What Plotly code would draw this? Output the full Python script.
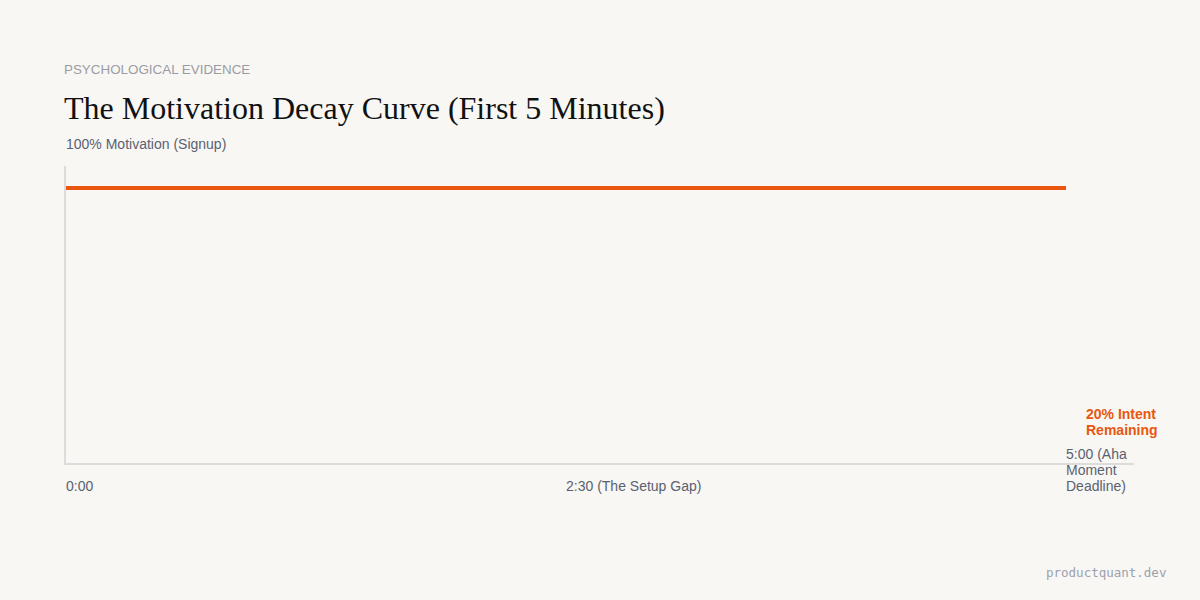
import plotly.graph_objects as go

# chart data (minutes since signup, motivation %)
minutes = [0, 2.5, 5]
motivation = [92.6, 92.6, 92.6]
tick_vals = [0, 2.5, 5]
tick_text = ["0:00", "2:30 (The Setup Gap)", "5:00 (Aha|Moment|Deadline)"]

bg = "#f8f7f4"
orange = "#e8560f"
grey_txt = "#5b6170"
sans = "Liberation Sans, Arial, sans-serif"

# plot area: x 66..1134, y 166..463 (px)
def py(px):
    return (600 - px - 137) / 297

def pxx(px):
    return (px - 66) / 1068

fig = go.Figure()
fig.add_trace(go.Scatter(x=minutes, y=motivation, mode="lines",
                         line=dict(color=orange, width=4), hoverinfo="skip"))

fig.update_layout(
    width=1200, height=600,
    paper_bgcolor=bg, plot_bgcolor=bg,
    margin=dict(l=66, r=66, t=166, b=137),
    showlegend=False,
    xaxis=dict(range=[0, 5.34], showgrid=False, zeroline=False, showticklabels=False,
               showline=True, linecolor="#dcdcdc", linewidth=2, fixedrange=True),
    yaxis=dict(range=[0, 100], showgrid=False, zeroline=False, showticklabels=False,
               showline=True, linecolor="#dcdcdc", linewidth=2, fixedrange=True),
)

# header text
fig.add_annotation(text="PSYCHOLOGICAL EVIDENCE", xref="paper", yref="paper",
                   x=pxx(64), y=py(70), xanchor="left", yanchor="middle", xshift=-2,
                   showarrow=False, font=dict(family=sans, size=13.4, color="#9b9ca3"))
fig.add_annotation(text="The Motivation Decay Curve (First 5 Minutes)", xref="paper", yref="paper",
                   x=pxx(64), y=py(108), xanchor="left", yanchor="middle", xshift=-2,
                   showarrow=False, font=dict(family="Liberation Serif, Times New Roman, serif",
                                              size=32, color="#111111"))
fig.add_annotation(text="100% Motivation (Signup)", xref="paper", yref="paper",
                   x=pxx(66), y=py(144), xanchor="left", yanchor="middle", xshift=-2,
                   showarrow=False, font=dict(family=sans, size=14, color=grey_txt))

# x labels, written as annotations so they can wrap like the reference
for v, t in zip(tick_vals[:2], tick_text[:2]):
    fig.add_annotation(text=t, x=v, xref="x", yref="paper", y=py(486), xshift=-2,
                       xanchor="left", yanchor="middle", showarrow=False,
                       font=dict(family=sans, size=14, color=grey_txt))
for i, part in enumerate(tick_text[2].split("|")):
    fig.add_annotation(text=part, x=tick_vals[2], xref="x", yref="paper", xshift=-2,
                       y=py(454 + 16 * i),
                       xanchor="left", yanchor="middle", showarrow=False,
                       font=dict(family=sans, size=14, color=grey_txt))

# end label
for i, part in enumerate(["20% Intent", "Remaining"]):
    fig.add_annotation(text="<b>" + part + "</b>", x=5.1, xref="x", yref="paper", xshift=-2,
                       y=py(414 + 16 * i),
                       xanchor="left", yanchor="middle", showarrow=False,
                       font=dict(family=sans, size=14, color=orange))

fig.add_annotation(text="productquant.dev", xref="paper", yref="paper",
                   x=pxx(1166), y=py(572), xanchor="right", yanchor="middle", xshift=2,
                   showarrow=False, font=dict(family="DejaVu Sans Mono, monospace", size=12.5, color="#9ca1ad"))

fig.write_html("out.html", config={"displayModeBar": False},
               post_script="document.body.style.margin='0';")
